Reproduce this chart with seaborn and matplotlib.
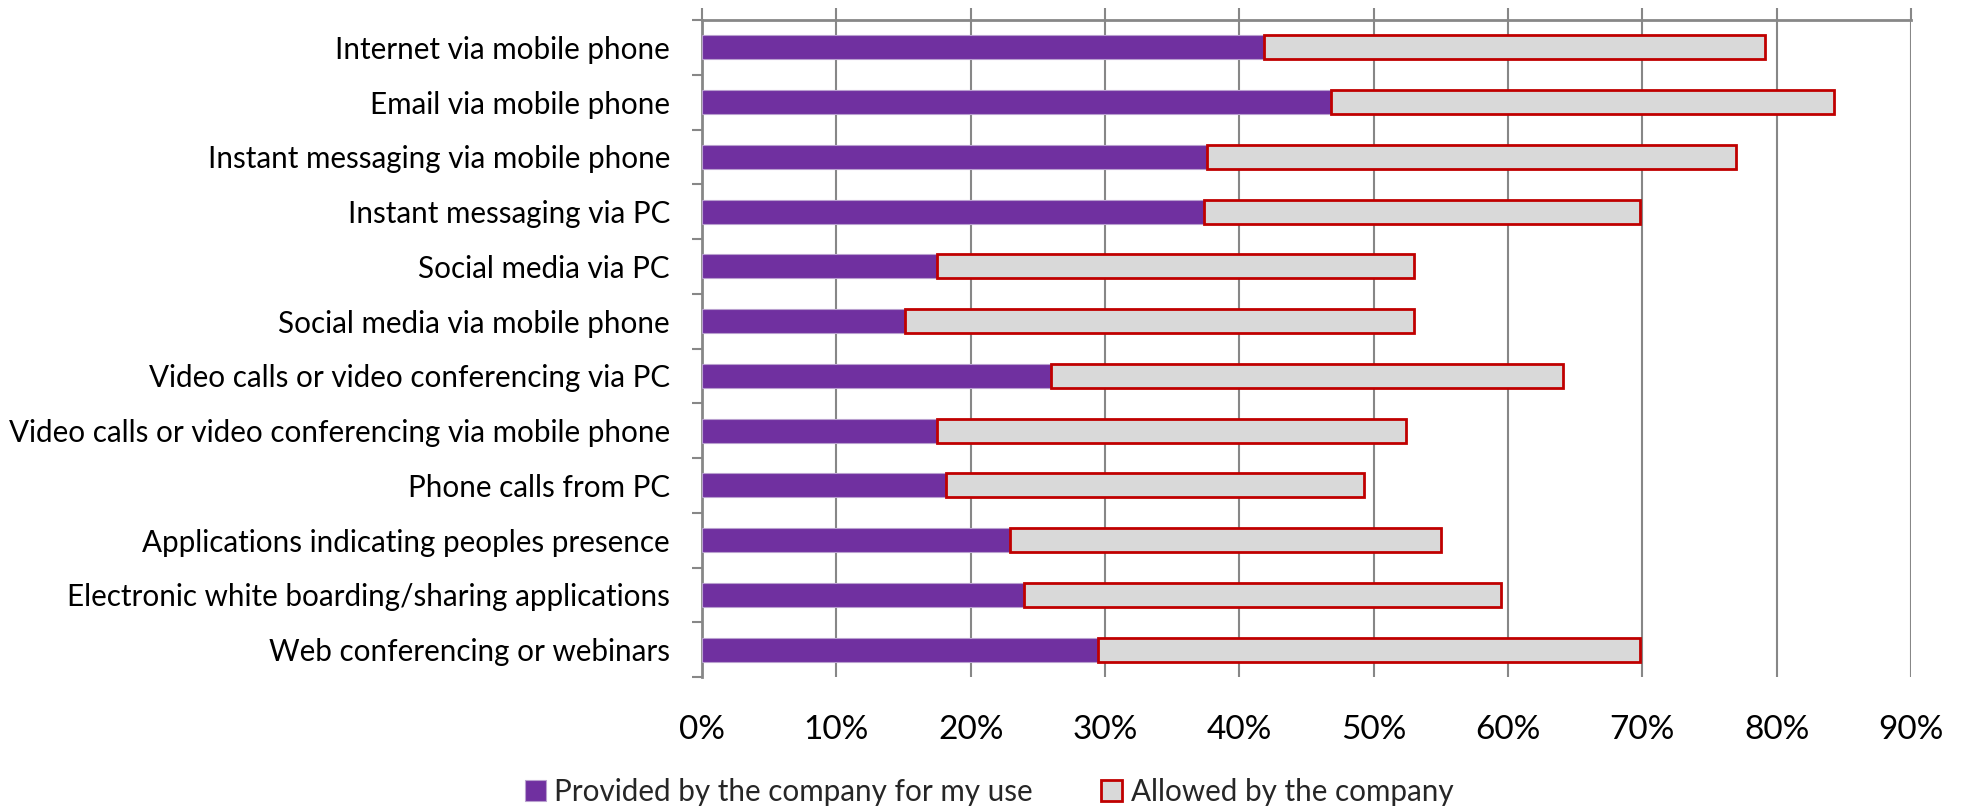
import matplotlib
matplotlib.use("Agg")
import matplotlib.pyplot as plt
import seaborn as sns
import pandas as pd
from matplotlib.patches import Patch
from matplotlib.ticker import FuncFormatter, MultipleLocator, FixedLocator

# Survey data: share of respondents (%)
categories = [
    "Internet via mobile phone",
    "Email via mobile phone",
    "Instant messaging via mobile phone",
    "Instant messaging via PC",
    "Social media via PC",
    "Social media via mobile phone",
    "Video calls or video conferencing via PC",
    "Video calls or video conferencing via mobile phone",
    "Phone calls from PC",
    "Applications indicating peoples presence",
    "Electronic white boarding/sharing applications",
    "Web conferencing or webinars",
]
provided = [41.8, 46.8, 37.6, 37.4, 17.5, 15.1, 26.0, 17.5, 18.2, 22.9, 24.0, 29.5]
allowed = [37.3, 37.5, 39.4, 32.4, 35.5, 37.9, 38.1, 34.9, 31.1, 32.1, 35.5, 40.3]
series_names = ["Provided by the company for my use", "Allowed by the company"]

PURPLE = "#7030A0"
GREY_FILL = "#D9D9D9"
RED_EDGE = "#C00000"
AXIS_GREY = "#878787"

sns.set_theme(style="white")
plt.rcParams["font.family"] = ["Lato", "DejaVu Sans"]

df = pd.DataFrame({"category": categories, "provided": provided, "allowed": allowed})

fig = plt.figure(figsize=(19.64, 8.08), dpi=100)
ax = fig.add_axes([702 / 1964, 1 - 677 / 808, (1911 - 702) / 1964, (677 - 20) / 808])

# Provided share (purple, from 0)
sns.barplot(data=df, y="category", x="provided", orient="h", color=PURPLE,
            saturation=1, width=0.44, ax=ax, linewidth=0.8, edgecolor="#B9A0CF", zorder=3)

# Allowed share stacked after the provided share
ypos = list(range(len(categories)))
ax.barh(ypos, df["allowed"], left=df["provided"], height=0.44, color=GREY_FILL,
        edgecolor=RED_EDGE, linewidth=2, zorder=3)

ax.set_xlim(0, 90)
ax.set_ylim(len(categories) - 0.5, -0.5)
ax.set_xlabel("")
ax.set_ylabel("")

# Value axis: line on top, labels at the bottom
ax.xaxis.set_major_locator(MultipleLocator(10))
ax.xaxis.set_major_formatter(FuncFormatter(lambda v, _: f"{v:.0f}%"))
ax.tick_params(axis="x", top=True, bottom=False, labeltop=False, labelbottom=True,
               direction="out", length=8.6, width=1.5, color=AXIS_GREY,
               labelsize=24, pad=18.5, labelcolor="black")
ax.grid(axis="x", color=AXIS_GREY, linewidth=1.5, zorder=0)
ax.grid(axis="y", visible=False)

# Category axis: ticks between categories
ax.tick_params(axis="y", which="major", length=0, labelsize=21.3, pad=23, labelcolor="black")
ax.yaxis.set_minor_locator(FixedLocator([i - 0.5 for i in range(len(categories) + 1)]))
ax.tick_params(axis="y", which="minor", left=True, direction="out", length=7.2,
               width=1.5, color=AXIS_GREY)

for side in ["right", "bottom"]:
    ax.spines[side].set_visible(False)
for side in ["top", "left"]:
    ax.spines[side].set_visible(True)
    ax.spines[side].set_color(AXIS_GREY)
    ax.spines[side].set_linewidth(2)
ax.set_axisbelow(True)

handles = [
    Patch(facecolor=PURPLE, edgecolor="#B9A0CF", linewidth=0.8, label=series_names[0]),
    Patch(facecolor=GREY_FILL, edgecolor=RED_EDGE, linewidth=2, label=series_names[1]),
]
fig.legend(handles=handles, loc="center", bbox_to_anchor=(0.5036, 1 - 792 / 808),
           ncol=2, frameon=False, fontsize=21.3, handlelength=0.7, handleheight=0.7,
           handletextpad=0.3, columnspacing=2.3, borderaxespad=0)

fig.savefig("out.png", dpi=100)
